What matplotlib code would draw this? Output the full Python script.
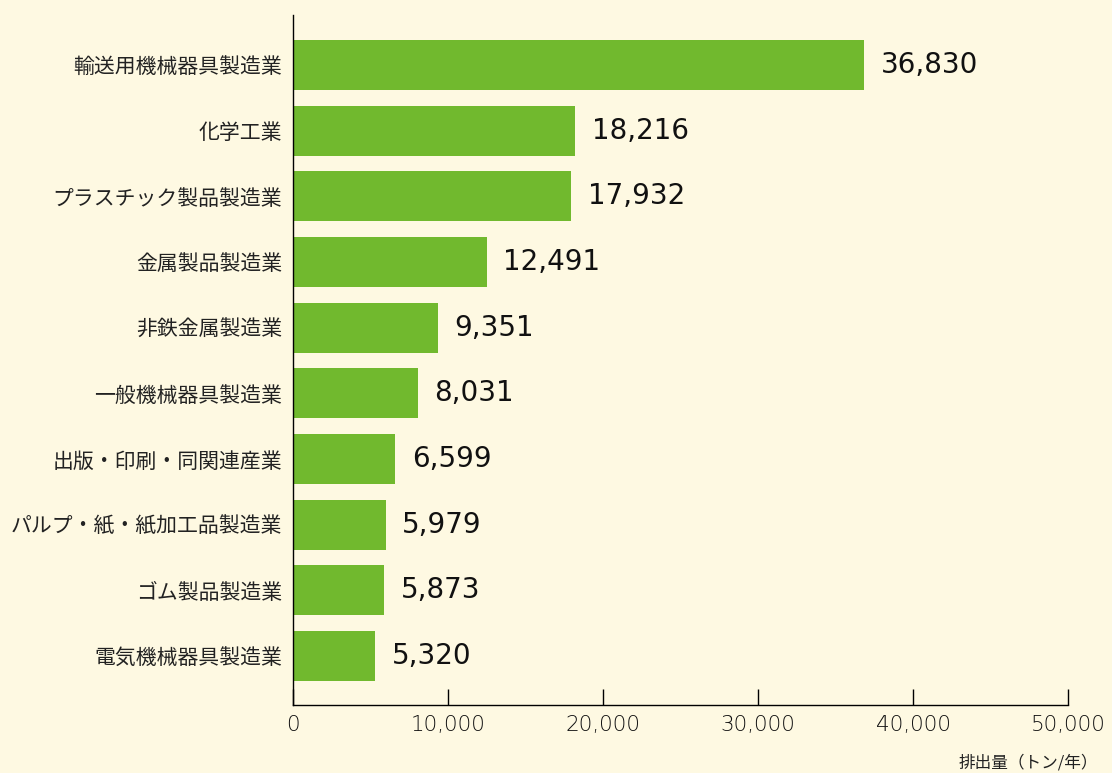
import matplotlib
matplotlib.use("Agg")
from matplotlib import pyplot as plt
import numpy as np

plt.rcParams['font.family'] = ['Noto Sans CJK JP', 'DejaVu Sans']

#業種別排出量 [トン/年]
categories = ["輸送用機械器具製造業", "化学工業", "プラスチック製品製造業", "金属製品製造業",
              "非鉄金属製造業", "一般機械器具製造業", "出版・印刷・同関連産業",
              "パルプ・紙・紙加工品製造業", "ゴム製品製造業", "電気機械器具製造業"]
values = [36830, 18216, 17932, 12491, 9351, 8031, 6599, 5979, 5873, 5320]
xticks = [0, 10000, 20000, 30000, 40000, 50000]

BG = "#fef9e2"
GREEN = "#71b92e"

fig = plt.figure(figsize=(11.12, 7.73), dpi=100, facecolor=BG)
ax = fig.add_axes([0.2635, 0.088, 0.697, 0.8926])
ax.set_facecolor(BG)

y = np.arange(len(categories))
ax.barh(y, values, height=0.76, color=GREEN)

for yi, v in zip(y, values):
  ax.annotate("{:,}".format(v), (v, yi), xytext=(12, 0), textcoords="offset points",
              va="center", ha="left", fontsize=20, family="DejaVu Sans", color="#111111")

ax.set_ylim(9.746, -0.76)
ax.set_xlim(0, 50000)
ax.set_yticks(y)
ax.set_yticklabels(categories, fontsize=15, color="#222222")
ax.set_xticks(xticks)
ax.set_xticklabels(["{:,}".format(t) for t in xticks], fontsize=15.5, color="#111111",
                   family="DejaVu Sans", fontweight="light")
ax.tick_params(axis="y", length=0, pad=8)
ax.tick_params(axis="x", direction="in", length=11.5, width=1, pad=7)

for s in ["top", "right"]:
  ax.spines[s].set_visible(False)
for s in ["left", "bottom"]:
  ax.spines[s].set_linewidth(1)
  ax.spines[s].set_color("black")

fig.text(1098/1112, 1-763/773, "排出量（トン/年）", ha="right", va="center",
         fontsize=12, color="#222222")

fig.savefig("out.png", dpi=100, facecolor=BG)
